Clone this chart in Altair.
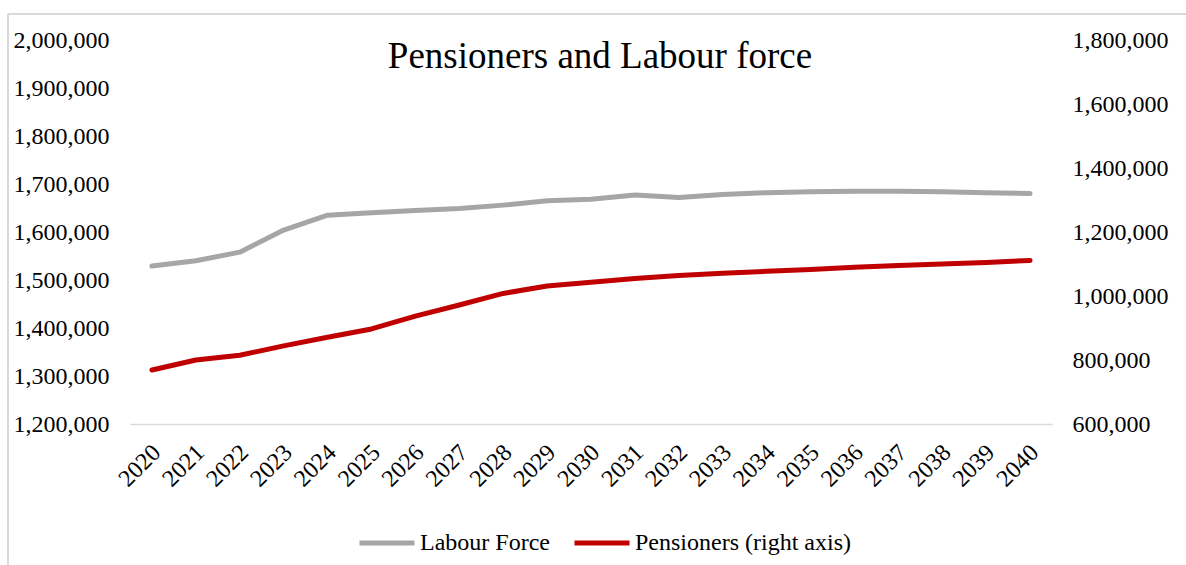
import altair as alt
import pandas as pd

TITLE = "Pensioners and Labour force"
years = [str(y) for y in range(2020, 2041)]
labour_force = [1529000, 1540000, 1558000, 1604000, 1635000, 1640000, 1645000,
                1649000, 1656000, 1665000, 1668000, 1677000, 1672000, 1678000,
                1682000, 1684000, 1685000, 1685000, 1684000, 1682000, 1680000]
pensioners = [768750, 800000, 815000, 844000, 871000, 897000, 937000,
              972000, 1008000, 1031000, 1043000, 1055000, 1064000, 1071000,
              1077000, 1083000, 1090000, 1095000, 1100000, 1105000, 1111000]
series_names = ["Labour Force", "Pensioners (right axis)"]
series_colors = ["#a6a6a6", "#c00000"]
left_ticks = [1200000, 1300000, 1400000, 1500000, 1600000, 1700000, 1800000, 1900000, 2000000]
right_ticks = [600000, 800000, 1000000, 1200000, 1400000, 1600000, 1800000]

rows = []
for y, lf, pe in zip(years, labour_force, pensioners):
    rows.append({"year": y, "series": series_names[0], "value": lf})
    rows.append({"year": y, "series": series_names[1], "value": pe})
df = pd.DataFrame(rows)

FONT = "Liberation Serif"
FS = 24
FMT = "format(datum.value, ',')"

x_enc = alt.X(
    "year:O",
    scale=alt.Scale(type="point", padding=0.5),
    axis=alt.Axis(
        title=None, labelAngle=-45, ticks=False, domainColor="#d9d9d9",
        domainWidth=1.5, labelFont=FONT, labelFontSize=FS, labelColor="black",
        labelPadding=16, labelOffset=-4,
    ),
)
color_enc = alt.Color(
    "series:N",
    scale=alt.Scale(domain=series_names, range=series_colors),
    legend=alt.Legend(
        title=None, orient="none", direction="horizontal",
        legendX=227, legendY=473,
        symbolType="stroke", symbolSize=3025, symbolStrokeWidth=5,
        labelFont=FONT, labelFontSize=FS, labelColor="black",
        labelOffset=3, columnPadding=14, labelLimit=0,
    ),
)

base = alt.Chart(df)

lf_line = base.transform_filter(
    alt.datum.series == series_names[0]
).mark_line(strokeWidth=5, strokeCap="round", strokeJoin="round").encode(
    x=x_enc,
    y=alt.Y(
        "value:Q",
        scale=alt.Scale(domain=[1200000, 2000000], nice=False, zero=False),
        axis=alt.Axis(
            title=None, orient="left", values=left_ticks, labelExpr=FMT,
            grid=False, domain=False, ticks=False, labelPadding=21,
            labelFont=FONT, labelFontSize=FS, labelColor="black",
        ),
    ),
    color=color_enc,
)

pe_line = base.transform_filter(
    alt.datum.series == series_names[1]
).mark_line(strokeWidth=5, strokeCap="round", strokeJoin="round").encode(
    x=x_enc,
    y=alt.Y(
        "value:Q",
        scale=alt.Scale(domain=[600000, 1800000], nice=False, zero=False),
        axis=alt.Axis(
            title=None, orient="right", values=right_ticks, labelExpr=FMT,
            grid=False, domain=False, ticks=False, labelPadding=20,
            labelFont=FONT, labelFontSize=FS, labelColor="black",
        ),
    ),
    color=color_enc,
)

title_df = pd.DataFrame({"t": [TITLE]})
title_mark = alt.Chart(title_df).mark_text(
    font=FONT, fontSize=37, color="black", align="center", baseline="alphabetic"
).encode(text="t:N", x=alt.value(470), y=alt.value(28))

border_df = pd.DataFrame({"k": [1]})
top_border = alt.Chart(border_df).mark_rule(color="#d9d9d9", strokeWidth=2).encode(
    x=alt.value(-122), x2=alt.value(1060), y=alt.value(-26)
)
left_border = alt.Chart(border_df).mark_rule(color="#d9d9d9", strokeWidth=2).encode(
    x=alt.value(-122), y=alt.value(-26), y2=alt.value(530)
)

chart = alt.layer(top_border, left_border, lf_line, pe_line, title_mark).resolve_scale(
    y="independent"
).properties(
    width=922, height=384,
    autosize=alt.AutoSizeParams(type="none"),
    padding={"left": 130, "top": 40, "right": 134, "bottom": 141},
    background="white",
).configure(font=FONT).configure_view(stroke=None).configure_axis(
    labelFont=FONT, labelFontSize=FS, labelColor="black"
)

chart.save("out.html", embed_options={"renderer": "svg", "actions": False})
